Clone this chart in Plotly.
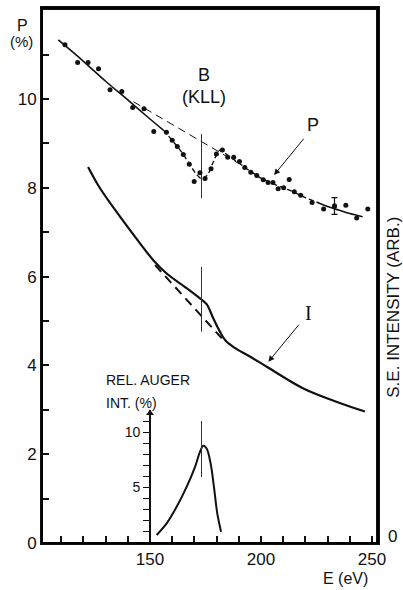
import plotly.graph_objects as go

# ---------------- data ----------------
# measured polarization P (%) vs energy E (eV)
p_dot_e = [111.7, 117.4, 122.1, 126.8, 132.0, 137.3, 142.2, 147.3, 151.7, 157.4,
           160.0, 162.3, 165.0, 167.7, 169.9, 172.5, 174.8, 177.5, 179.9, 182.6,
           185.0, 187.7, 190.3, 192.7, 195.4, 198.1, 201.0, 203.2, 205.4, 207.7,
           210.2, 212.7, 215.0, 217.9, 223.0, 228.2, 233.1, 238.2, 243.1, 248.1]
p_dot_v = [11.22, 10.82, 10.82, 10.68, 10.21, 10.17, 9.81, 9.78, 9.27, 9.25,
           9.07, 8.93, 8.75, 8.53, 8.14, 8.34, 8.21, 8.43, 8.76, 8.85,
           8.69, 8.69, 8.59, 8.46, 8.35, 8.28, 8.18, 8.12, 8.12, 7.98,
           8.00, 8.19, 7.91, 7.83, 7.67, 7.52, 7.59, 7.61, 7.32, 7.52]
# representative error bar
err_e = [233.1]
err_v = [7.59]
err_size = [0.19]

# fitted P curve (solid / dashed / solid pieces)
pfit1_e = [108.7, 120, 130, 140, 150, 156]
pfit1_v = [11.33, 10.85, 10.40, 9.98, 9.55, 9.30]
pfit2_e = [156, 160, 164, 168, 171, 173.5, 176, 178.5, 181.5, 185, 190, 195, 200, 205, 210, 215, 220, 225]
pfit2_v = [9.30, 9.07, 8.82, 8.52, 8.30, 8.20, 8.30, 8.58, 8.85, 8.73, 8.56, 8.38, 8.22, 8.10, 8.00, 7.90, 7.78, 7.68]
pfit3_e = [225, 230, 235, 240, 245.8]
pfit3_v = [7.68, 7.58, 7.50, 7.42, 7.35]
# background (no Auger) extrapolation for P
pbase_e = [142.5, 189.6]
pbase_v = [9.94, 8.56]

# secondary electron intensity I (arb., drawn on P scale)
i_e = [122.1, 127.5, 136.5, 145.5, 151.5, 157.5, 166.5, 172.5, 175.5, 178.5, 181.5,
       184, 188, 195, 202.6, 219.1, 233, 246.8]
i_v = [8.47, 7.99, 7.35, 6.75, 6.37, 6.07, 5.74, 5.51, 5.38, 5.06, 4.76,
       4.56, 4.40, 4.20, 3.97, 3.48, 3.20, 2.96]
ibase_e = [152.3, 183.8]
ibase_v = [6.26, 4.53]

# B KLL Auger energy marker
kll_e = 173.2
p_mark_v = [9.21, 7.77]
i_mark_v = [6.22, 4.76]

# relative Auger intensity (%)
aug_e = [153.0, 157.5, 162.0, 166.5, 170.3, 172.5, 174.0, 175.5, 177.3, 178.8, 180.3, 182.0]
aug_v = [0.72, 1.77, 3.27, 5.07, 6.87, 8.22, 8.77, 8.53, 7.18, 5.07, 2.67, 1.02]
aug_mark_v = [5.95, 11.0]

# axis ticks
x_ticks = list(range(110, 251, 10))
x_labels = [str(t) if t in (150, 200, 250) else "" for t in x_ticks]
y_ticks = list(range(0, 12))
y_labels = [str(t) if t % 2 == 0 else "" for t in y_ticks]
aug_ticks = list(range(1, 12))
aug_labels = [str(t) if t in (5, 10) else "" for t in aug_ticks]

X_RANGE = [101.35, 252.7]
Y_RANGE = [0, 12.05]

FONT = "Liberation Sans"
BLACK = "#111111"

fig = go.Figure()

# frame: top and right borders of the plotting box (follow the axis ranges)
fig.add_trace(go.Scatter(x=[X_RANGE[0], X_RANGE[1], X_RANGE[1]], y=[Y_RANGE[1], Y_RANGE[1], Y_RANGE[0]],
                         mode="lines", line=dict(color=BLACK, width=4), hoverinfo="skip"))

# P fit lines
fig.add_trace(go.Scatter(x=pfit1_e, y=pfit1_v, mode="lines", line=dict(color=BLACK, width=1.6, shape="spline")))
fig.add_trace(go.Scatter(x=pfit2_e, y=pfit2_v, mode="lines", line=dict(color=BLACK, width=1.4, shape="spline", dash="5px,3px")))
fig.add_trace(go.Scatter(x=pfit3_e, y=pfit3_v, mode="lines", line=dict(color=BLACK, width=1.6, shape="spline")))
fig.add_trace(go.Scatter(x=pbase_e, y=pbase_v, mode="lines", line=dict(color=BLACK, width=1.0, dash="8px,5px")))
fig.add_trace(go.Scatter(x=[kll_e, kll_e], y=p_mark_v, mode="lines", line=dict(color="#333333", width=1.0)))

# P points
fig.add_trace(go.Scatter(x=p_dot_e, y=p_dot_v, mode="markers", marker=dict(color=BLACK, size=5)))
fig.add_trace(go.Scatter(x=err_e, y=err_v, mode="markers", marker=dict(color=BLACK, size=5),
                         error_y=dict(type="data", array=err_size, color=BLACK, thickness=1.2, width=3)))

# I curve
fig.add_trace(go.Scatter(x=i_e, y=i_v, mode="lines", line=dict(color=BLACK, width=2.2, shape="spline")))
fig.add_trace(go.Scatter(x=ibase_e, y=ibase_v, mode="lines", line=dict(color=BLACK, width=2.0, dash="9px,6px")))
fig.add_trace(go.Scatter(x=[kll_e, kll_e], y=i_mark_v, mode="lines", line=dict(color="#333333", width=1.0)))

# Auger inset
fig.add_trace(go.Scatter(x=aug_e, y=aug_v, mode="lines", yaxis="y3", line=dict(color=BLACK, width=2.0, shape="spline")))
fig.add_trace(go.Scatter(x=[kll_e, kll_e], y=aug_mark_v, mode="lines", yaxis="y3", line=dict(color="#333333", width=1.0)))
fig.add_trace(go.Scatter(x=[150], y=[11.7], mode="markers", yaxis="y3", cliponaxis=False,
                         marker=dict(symbol="triangle-up", size=7, color=BLACK)))

ann = []
def txt(text, x, y, size, xref="x", yref="y", xanchor="center", yanchor="middle", angle=0, family=FONT):
    ann.append(dict(text=text, x=x, y=y, xref=xref, yref=yref, showarrow=False, xanchor=xanchor,
                    yanchor=yanchor, textangle=angle, font=dict(family=family, size=size, color=BLACK)))

txt("P", -0.057, 0.968, 16, xref="paper", yref="paper")
txt("(%)", -0.060, 0.938, 15, xref="paper", yref="paper")
txt("B", 174.3, 10.54, 18)
txt("(KLL)", 174.3, 10.05, 18)
txt("P", 223.4, 9.41, 18)
txt("I", 221.3, 5.19, 20, family="Liberation Serif")
txt("REL. AUGER", 129.5, 3.67, 14, xanchor="left")
txt("INT. (%)", 129.5, 3.15, 14, xanchor="left")
txt("E (eV)", 0.902, -0.066, 16, xref="paper", yref="paper")
txt("S.E. INTENSITY (ARB.)", 1.045, 0.44, 17, xref="paper", yref="paper", angle=-90)
txt("0", 1.042, 0.012, 17, xref="paper", yref="paper")   # zero of the right-hand intensity scale

ann.append(dict(x=205.9, y=8.29, ax=219.8, ay=9.14, xref="x", yref="y", axref="x", ayref="y",
                showarrow=True, arrowhead=2, arrowsize=1.2, arrowwidth=1, arrowcolor=BLACK, text=""))
ann.append(dict(x=203.3, y=4.08, ax=217.6, ay=4.95, xref="x", yref="y", axref="x", ayref="y",
                showarrow=True, arrowhead=2, arrowsize=1.2, arrowwidth=1, arrowcolor=BLACK, text=""))

fig.update_layout(
    width=403, height=590,
    margin=dict(l=42, r=25, t=8, b=47, autoexpand=False),
    paper_bgcolor="white", plot_bgcolor="rgba(0,0,0,0)",
    showlegend=False,
    font=dict(family=FONT, size=17, color=BLACK),
    annotations=ann,
    shapes=[dict(type="rect", xref="paper", yref="paper", x0=0, x1=1, y0=0, y1=1,
                 line=dict(color="black", width=2), layer="above")],
    xaxis=dict(range=X_RANGE, tickvals=x_ticks, ticktext=x_labels, ticks="inside", ticklen=7,
               tickwidth=1.5, tickcolor=BLACK, showline=True, linewidth=2, linecolor=BLACK, mirror=True,
               showgrid=False, zeroline=False, tickfont=dict(size=17)),
    yaxis=dict(range=Y_RANGE, tickvals=y_ticks, ticktext=y_labels, ticks="inside", ticklen=7,
               tickwidth=1.5, tickcolor=BLACK, showline=True, linewidth=2, linecolor=BLACK, mirror=True,
               showgrid=False, zeroline=False, tickfont=dict(size=17)),
    yaxis3=dict(domain=[0, 0.2486], range=[0, 12], anchor="free", position=0.3214, side="left",
                tickvals=aug_ticks, ticktext=aug_labels, ticks="outside", ticklen=6, tickwidth=1.2,
                tickcolor=BLACK, showline=True, linewidth=1.6, linecolor=BLACK, showgrid=False,
                zeroline=False, tickfont=dict(size=14)),
)

fig.write_html("out.html")
